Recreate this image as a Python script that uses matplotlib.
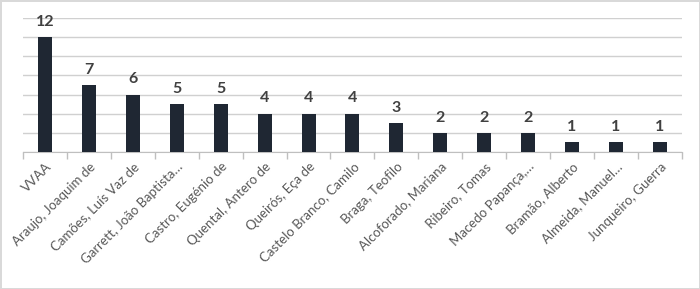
import numpy as np
import matplotlib.pyplot as plt

autores = ['VVAA', 'Araujo, Joaquim de', 'Camões, Luís Vaz de', 'Garrett, João Baptista…',
           'Castro, Eugénio de', 'Quental, Antero de', 'Queirós, Eça de', 'Castelo Branco, Camilo',
           'Braga, Teofilo', 'Alcoforado, Mariana', 'Ribeiro, Tomas', 'Macedo Papança,…',
           'Bramão, Alberto', 'Almeida, Manuel…', 'Junqueiro, Guerra']
obras = [12, 7, 6, 5, 5, 4, 4, 4, 3, 2, 2, 2, 1, 1, 1]

plt.rcParams['font.family'] = ['Lato', 'DejaVu Sans']

fig = plt.figure(figsize=(7, 2.89), dpi=100, edgecolor='#d9d9d9', linewidth=2)
ax = fig.add_axes([0.033, 0.474, 0.941, 0.464])

x = np.arange(len(autores))
ax.bar(x, obras, width=0.32, color='#1f2733', zorder=3)
for xi, v in zip(x, obras):
    ax.annotate(str(v), (xi, v), xytext=(0, 6), textcoords='offset points',
                ha='center', va='bottom', fontsize=11.5, fontweight='bold', color='#404040')

ax.set_xlim(-0.5, len(autores) - 0.5)
ax.set_ylim(0, 14)
ax.set_yticks(np.arange(0, 15, 2))
ax.yaxis.grid(True, color='#d0d0d0', linewidth=1, zorder=0)
ax.tick_params(axis='y', left=False, labelleft=False)

ax.set_xticks(x)
ax.set_xticklabels(autores, rotation=45, ha='right', va='top', rotation_mode='anchor',
                   fontsize=9.5, color='#595959')
ax.tick_params(axis='x', which='major', length=0, pad=6)
ax.set_xticks(np.arange(-0.5, len(autores)), minor=True)
ax.tick_params(axis='x', which='minor', length=5, color='#bfbfbf', width=1)

for s in ['top', 'right', 'left']:
    ax.spines[s].set_visible(False)
ax.spines['bottom'].set_color('#bfbfbf')

fig.savefig('out.png', dpi=100, edgecolor=fig.get_edgecolor())
